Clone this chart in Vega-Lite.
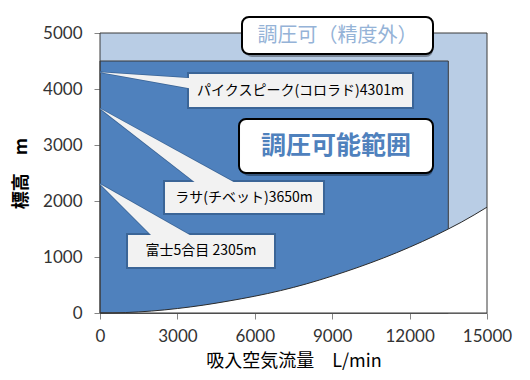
{
  "$schema": "https://vega.github.io/schema/vega-lite/v6.json",
  "width": 387,
  "height": 280,
  "autosize": {"type": "none"},
  "padding": {"left": 100, "top": 33, "right": 43, "bottom": 67},
  "background": "white",
  "config": {
    "view": {"stroke": null},
    "axis": {
      "domainColor": "#868686",
      "tickColor": "#868686",
      "labelFont": "Lato",
      "labelFontSize": 17,
      "labelColor": "#333333",
      "titleFont": "Noto Sans CJK JP",
      "titleFontSize": 18,
      "titleColor": "#000000",
      "grid": false,
      "tickSize": 6,
      "zindex": 1
    }
  },
  "datasets": {
    "regions": [
      {"name": "light", "x": 0, "x2": 15000, "y": 0, "y2": 5000},
      {"name": "dark", "x": 0, "x2": 13500, "y": 0, "y2": 4500}
    ],
    "curve": [
      {"x": 0, "y": 0},
      {"x": 1000, "y": 8},
      {"x": 2000, "y": 35},
      {"x": 3000, "y": 80},
      {"x": 4000, "y": 140},
      {"x": 5000, "y": 215},
      {"x": 6000, "y": 300},
      {"x": 7000, "y": 400},
      {"x": 8000, "y": 520},
      {"x": 9000, "y": 660},
      {"x": 10000, "y": 815},
      {"x": 11000, "y": 985},
      {"x": 12000, "y": 1175},
      {"x": 13000, "y": 1385},
      {"x": 13500, "y": 1500},
      {"x": 14000, "y": 1620},
      {"x": 15000, "y": 1890}
    ],
    "pointerV": [
      {"id": 1, "x": 0, "y": 4301, "y2": 4301},
      {"id": 1, "x": 3566, "y": 4193, "y2": 4004}
    ],
    "pointerH": [
      {"id": 2, "y": 3650, "x": 0, "x2": 0},
      {"id": 2, "y": 2286, "x": 3814, "x2": 5388},
      {"id": 3, "y": 2305, "x": 0, "x2": 0},
      {"id": 3, "y": 1321, "x": 2132, "x2": 3752}
    ],
    "labels": [
      {"kind": "callout", "x": 3411, "x2": 12132, "y": 3661, "y2": 4286, "cx": 7771, "cy": 3973, "text": "パイクスピーク(コロラド)4301m"},
      {"kind": "callout", "x": 2481, "x2": 8682, "y": 1768, "y2": 2357, "cx": 5581, "cy": 2062, "text": "ラサ(チベット)3650m"},
      {"kind": "callout", "x": 1047, "x2": 6783, "y": 804, "y2": 1411, "cx": 3915, "cy": 1107, "text": "富士5合目 2305m"},
      {"kind": "outside", "x": 5504, "x2": 12907, "y": 4625, "y2": 5286, "cx": 9205, "cy": 4955, "text": "調圧可（精度外）"},
      {"kind": "inside", "x": 5388, "x2": 12907, "y": 2500, "y2": 3464, "cx": 9147, "cy": 2982, "text": "調圧可能範囲"}
    ]
  },
  "layer": [
    {
      "data": {"name": "regions"},
      "transform": [{"filter": "datum.name === 'light'"}],
      "mark": {"type": "rect", "fill": "#b9cde5"},
      "encoding": {
        "x": {"field": "x", "type": "quantitative", "scale": {"domain": [0, 15000], "nice": false},
          "axis": {"title": "吸入空気流量　L/min", "values": [0, 1500, 3000, 4500, 6000, 7500, 9000, 10500, 12000, 13500, 15000],
            "labelExpr": "datum.value % 3000 === 0 ? datum.label : ''", "format": "d", "labelPadding": 9, "titlePadding": 8,
            "titleFontWeight": "normal", "labelFlush": false, "labelOverlap": false}},
        "x2": {"field": "x2"},
        "y": {"field": "y", "type": "quantitative", "scale": {"domain": [0, 5000], "nice": false},
          "axis": {"title": "標高　m", "values": [0, 1000, 2000, 3000, 4000, 5000], "format": "d", "labelPadding": 12,
            "titlePadding": 12, "titleFontWeight": "bold"}},
        "y2": {"field": "y2"}
      }
    },
    {
      "data": {"name": "regions"},
      "transform": [{"filter": "datum.name === 'dark'"}],
      "mark": {"type": "rect", "fill": "#4f81bd", "stroke": "#3a3a3a", "strokeWidth": 1},
      "encoding": {
        "x": {"field": "x", "type": "quantitative", "scale": {"domain": [0, 15000], "nice": false}},
        "x2": {"field": "x2"},
        "y": {"field": "y", "type": "quantitative", "scale": {"domain": [0, 5000], "nice": false}},
        "y2": {"field": "y2"}
      }
    },
    {
      "data": {"name": "curve"},
      "mark": {"type": "area", "fill": "#ffffff", "interpolate": "monotone"},
      "encoding": {
        "x": {"field": "x", "type": "quantitative", "scale": {"domain": [0, 15000], "nice": false}},
        "y": {"field": "y", "type": "quantitative", "scale": {"domain": [0, 5000], "nice": false}}
      }
    },
    {
      "data": {"name": "curve"},
      "mark": {"type": "line", "stroke": "#2b2b2b", "strokeWidth": 1, "interpolate": "monotone"},
      "encoding": {
        "x": {"field": "x", "type": "quantitative"},
        "y": {"field": "y", "type": "quantitative"}
      }
    },
    {
      "data": {"name": "regions"},
      "transform": [{"filter": "datum.name === 'light'"}],
      "mark": {"type": "rect", "filled": false, "stroke": "#3a3a3a", "strokeWidth": 1},
      "encoding": {
        "x": {"field": "x", "type": "quantitative"},
        "x2": {"field": "x2"},
        "y": {"field": "y", "type": "quantitative"},
        "y2": {"field": "y2"}
      }
    },
    {
      "data": {"name": "pointerV"},
      "mark": {"type": "area", "orient": "vertical", "fill": "#f2f2f2", "stroke": "#3b6597", "strokeWidth": 1.5},
      "encoding": {
        "x": {"field": "x", "type": "quantitative"},
        "y": {"field": "y", "type": "quantitative"},
        "y2": {"field": "y2"},
        "detail": {"field": "id"}
      }
    },
    {
      "data": {"name": "pointerH"},
      "mark": {"type": "area", "orient": "horizontal", "fill": "#f2f2f2", "stroke": "#3b6597", "strokeWidth": 1.5},
      "encoding": {
        "y": {"field": "y", "type": "quantitative"},
        "x": {"field": "x", "type": "quantitative"},
        "x2": {"field": "x2"},
        "detail": {"field": "id"}
      }
    },
    {
      "data": {"name": "labels"},
      "transform": [{"filter": "datum.kind === 'callout'"}],
      "mark": {"type": "rect", "fill": "#f2f2f2", "stroke": "#3b6597", "strokeWidth": 2},
      "encoding": {
        "x": {"field": "x", "type": "quantitative"},
        "x2": {"field": "x2"},
        "y": {"field": "y", "type": "quantitative"},
        "y2": {"field": "y2"}
      }
    },
    {
      "data": {"name": "pointerV"},
      "mark": {"type": "area", "orient": "vertical", "fill": "#f2f2f2"},
      "encoding": {
        "x": {"field": "x", "type": "quantitative"},
        "y": {"field": "y", "type": "quantitative"},
        "y2": {"field": "y2"},
        "detail": {"field": "id"}
      }
    },
    {
      "data": {"name": "pointerH"},
      "mark": {"type": "area", "orient": "horizontal", "fill": "#f2f2f2"},
      "encoding": {
        "y": {"field": "y", "type": "quantitative"},
        "x": {"field": "x", "type": "quantitative"},
        "x2": {"field": "x2"},
        "detail": {"field": "id"}
      }
    },
    {
      "data": {"name": "labels"},
      "transform": [{"filter": "datum.kind === 'callout'"}],
      "mark": {"type": "text", "font": "Noto Sans CJK JP", "fontSize": 14, "color": "#000000", "align": "center", "baseline": "middle"},
      "encoding": {
        "x": {"field": "cx", "type": "quantitative"},
        "y": {"field": "cy", "type": "quantitative"},
        "text": {"field": "text"}
      }
    },
    {
      "data": {"name": "labels"},
      "transform": [{"filter": "datum.kind !== 'callout'"}],
      "mark": {"type": "rect", "fill": "#000000", "opacity": 0.35, "cornerRadius": 7, "xOffset": 3, "yOffset": 3},
      "encoding": {
        "x": {"field": "x", "type": "quantitative"},
        "x2": {"field": "x2"},
        "y": {"field": "y", "type": "quantitative"},
        "y2": {"field": "y2"}
      }
    },
    {
      "data": {"name": "labels"},
      "transform": [{"filter": "datum.kind !== 'callout'"}],
      "mark": {"type": "rect", "fill": "#ffffff", "stroke": "#000000", "strokeWidth": 2, "cornerRadius": 7},
      "encoding": {
        "x": {"field": "x", "type": "quantitative"},
        "x2": {"field": "x2"},
        "y": {"field": "y", "type": "quantitative"},
        "y2": {"field": "y2"}
      }
    },
    {
      "data": {"name": "labels"},
      "transform": [{"filter": "datum.kind === 'outside'"}],
      "mark": {"type": "text", "font": "Noto Sans CJK JP", "fontSize": 20, "color": "#95b3d7", "align": "center", "baseline": "middle"},
      "encoding": {
        "x": {"field": "cx", "type": "quantitative"},
        "y": {"field": "cy", "type": "quantitative"},
        "text": {"field": "text"}
      }
    },
    {
      "data": {"name": "labels"},
      "transform": [{"filter": "datum.kind === 'inside'"}],
      "mark": {"type": "text", "font": "Noto Sans CJK JP", "fontSize": 25, "fontWeight": "bold", "color": "#4f81bd", "align": "center", "baseline": "middle"},
      "encoding": {
        "x": {"field": "cx", "type": "quantitative"},
        "y": {"field": "cy", "type": "quantitative"},
        "text": {"field": "text"}
      }
    }
  ]
}
